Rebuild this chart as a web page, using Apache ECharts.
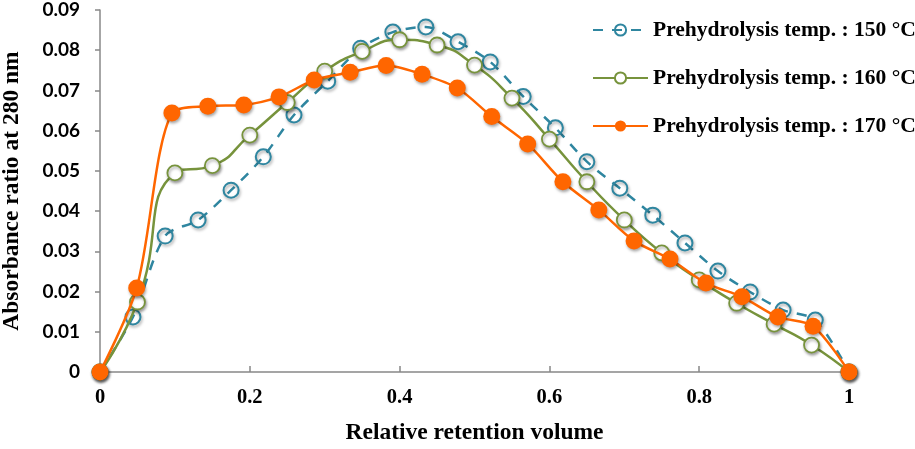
<!DOCTYPE html>
<html>
<head>
<meta charset="utf-8">
<script src="https://cdn.jsdelivr.net/npm/echarts@6/dist/echarts.min.js"></script>
<style>html,body{margin:0;padding:0;background:#fff;}#c{width:915px;height:449px;}</style>
</head>
<body>
<div id="c"></div>
<script>
const seriesNames = ['Prehydrolysis temp. : 150 °C', 'Prehydrolysis temp. : 160 °C', 'Prehydrolysis temp. : 170 °C'];
const x150 = [0, 0.044, 0.087, 0.131, 0.175, 0.218, 0.259, 0.304, 0.348, 0.391, 0.435, 0.478, 0.521, 0.565, 0.608, 0.650, 0.694, 0.738, 0.781, 0.825, 0.868, 0.912, 0.955, 1];
const y150 = [0, 0.0137, 0.0338, 0.0378, 0.0452, 0.0535, 0.0639, 0.0723, 0.0805, 0.0845, 0.0858, 0.0821, 0.0771, 0.0685, 0.0607, 0.0523, 0.0457, 0.0390, 0.0321, 0.0251, 0.0199, 0.0154, 0.0129, 0];
const x160 = [0, 0.05, 0.1, 0.15, 0.2, 0.25, 0.3, 0.35, 0.4, 0.45, 0.5, 0.55, 0.6, 0.65, 0.7, 0.75, 0.8, 0.85, 0.9, 0.95, 1];
const y160 = [0, 0.0174, 0.0495, 0.0513, 0.0589, 0.0670, 0.0748, 0.0797, 0.0826, 0.0813, 0.0763, 0.0681, 0.0579, 0.0473, 0.0378, 0.0296, 0.0229, 0.0171, 0.0119, 0.0067, 0];
const x170 = [0, 0.049, 0.096, 0.144, 0.192, 0.239, 0.286, 0.334, 0.382, 0.430, 0.477, 0.523, 0.571, 0.618, 0.666, 0.713, 0.761, 0.809, 0.857, 0.905, 0.952, 1];
const y170 = [0, 0.0209, 0.0644, 0.0661, 0.0664, 0.0684, 0.0726, 0.0745, 0.0762, 0.0740, 0.0706, 0.0635, 0.0567, 0.0473, 0.0403, 0.0326, 0.0281, 0.0221, 0.0187, 0.0137, 0.0114, 0];
const xTicks = [0, 0.2, 0.4, 0.6, 0.8, 1];
const yTicks = [0, 0.01, 0.02, 0.03, 0.04, 0.05, 0.06, 0.07, 0.08, 0.09];

const teal = '#2F86A0', green = '#77933C', orange = '#FF6600';
const pair = (xs, ys) => xs.map((x, i) => [x, ys[i]]);
const serif = '"Liberation Serif", "Times New Roman", serif';
const shadow = {shadowBlur: 3, shadowOffsetX: 1, shadowOffsetY: 2, shadowColor: 'rgba(0,0,0,0.35)'};

const chart = echarts.init(document.getElementById('c'), null, {renderer: 'canvas'});
chart.setOption({
  animation: false,
  backgroundColor: '#fff',
  grid: {left: 100, right: 66, top: 10, bottom: 77, containLabel: false, outerBoundsMode: 'none'},
  legend: {
    orient: 'vertical', left: 592, top: 19, padding: 0,
    itemWidth: 55, itemHeight: 14, itemGap: 26,
    textStyle: {fontFamily: serif, fontWeight: 'bold', fontSize: 21.5, color: '#000', lineHeight: 22},
    data: seriesNames
  },
  xAxis: {
    type: 'value', min: 0, max: 1, interval: 0.2,
    name: 'Relative retention volume', nameLocation: 'middle', nameGap: 49,
    nameTextStyle: {fontFamily: serif, fontWeight: 'bold', fontSize: 23.5, color: '#000'},
    axisLine: {show: true, lineStyle: {color: '#888', width: 1.5}},
    axisTick: {show: true, inside: true, length: 6, lineStyle: {color: '#888', width: 1.5}},
    splitLine: {show: false},
    axisLabel: {fontFamily: serif, fontWeight: 'bold', fontSize: 20.5, color: '#000', margin: 15,
      formatter: v => { const t = xTicks.find(k => Math.abs(k - v) < 1e-9); return (t === 0 || t === 1) ? String(t) : t.toFixed(1); }}
  },
  yAxis: {
    type: 'value', min: 0, max: 0.09, interval: 0.01,
    name: 'Absorbance ratio at 280 nm', nameLocation: 'middle', nameGap: 76, nameRotate: 90,
    nameTextStyle: {fontFamily: serif, fontWeight: 'bold', fontSize: 23.5, color: '#000'},
    axisLine: {show: true, lineStyle: {color: '#888', width: 1.5}},
    axisTick: {show: true, inside: false, length: 5, lineStyle: {color: '#888', width: 1.5}},
    splitLine: {show: false},
    axisLabel: {fontFamily: 'Lato, "Open Sans", sans-serif', fontWeight: 'bold', fontSize: 19, color: '#000', margin: 20,
      formatter: v => { const t = yTicks.find(k => Math.abs(k - v) < 1e-9); return t === 0 ? '0' : t.toFixed(2); }}
  },
  series: [
    {
      name: seriesNames[0], type: 'line', data: pair(x150, y150), smooth: 0.3,
      symbol: 'circle', symbolSize: 15,
      lineStyle: {color: teal, width: 2.5, type: [10, 9]},
      itemStyle: Object.assign({color: 'rgba(255,255,255,0)', borderColor: teal, borderWidth: 2}, shadow),
      z: 2
    },
    {
      name: seriesNames[1], type: 'line', data: pair(x160, y160), smooth: 0.55,
      symbol: 'circle', symbolSize: 15,
      lineStyle: {color: green, width: 2.5},
      itemStyle: Object.assign({color: '#fff', borderColor: green, borderWidth: 1.8}, shadow),
      z: 3
    },
    {
      name: seriesNames[2], type: 'line', data: pair(x170, y170), smooth: 0.3,
      symbol: 'circle', symbolSize: 17,
      lineStyle: {color: orange, width: 2.5},
      itemStyle: Object.assign({color: orange, borderColor: orange, borderWidth: 0}, shadow),
      z: 4
    }
  ]
});
</script>
</body>
</html>
